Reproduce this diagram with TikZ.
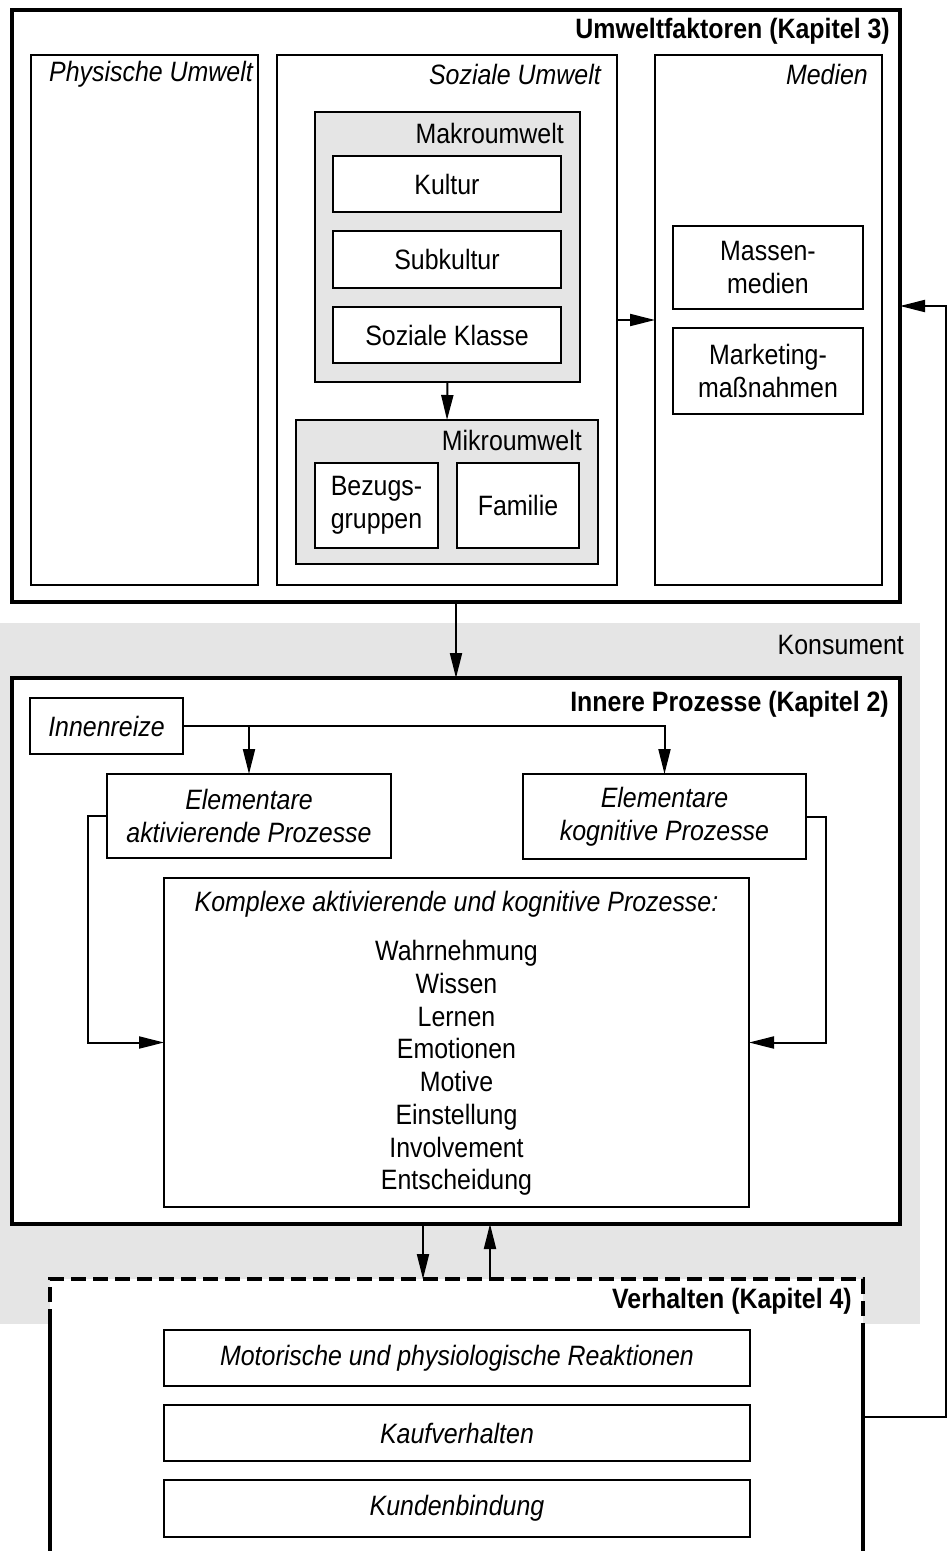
\documentclass[tikz,border=0pt]{standalone}
\usepackage{fontspec}
\setmainfont{Liberation Sans}[FakeStretch=0.89]
\usetikzlibrary{fit,arrows.meta}
\definecolor{panelgray}{HTML}{E5E5E5}
\newcommand{\txt}{\fontsize{28}{33}\selectfont}
\begin{document}
\begin{tikzpicture}[x=1pt,y=-1pt,
  stdbox/.style={draw, line width=2pt, fill=white, inner sep=0pt, outer sep=0pt, align=center, font=\txt},
  framebox/.style={stdbox, line width=3.5pt},
  groupbox/.style={stdbox, fill=panelgray},
  sized/.style 2 args={minimum width=#1pt, minimum height=#2pt},
  heading/.style={anchor=east, inner sep=0pt, font=\txt},
  arr/.style={line width=2pt, -{Triangle[length=25pt,width=12pt]}}
]
\useasboundingbox (0,0) rectangle (948,1551);

% consumer area
\node[fill=panelgray, inner sep=0pt, outer sep=0pt, fit={(0,623) (920,1324)}] (konsument) {};
\node[heading] (konsumentlabel) at (904,645) {Konsument};

% environment factors
\node[framebox, fit={(12,10) (900,602)}] (umwelt) {};
\node[heading, font=\txt\bfseries] (umwelttitel) at (890,31) {Umweltfaktoren (Kapitel 3)};

\node[stdbox, fit={(31,55) (258,585)}] (physisch) {};
\node[heading, font=\txt\itshape] (physischlabel) at (253,74) {Physische Umwelt};
\node[stdbox, fit={(277,55) (617,585)}] (sozial) {};
\node[heading, font=\txt\itshape] (soziallabel) at (601,74) {Soziale Umwelt};
\node[stdbox, fit={(655,55) (882,585)}] (medien) {};
\node[heading, font=\txt\itshape] (medienlabel) at (868,74) {Medien};

\node[groupbox, fit={(315,112) (580,382)}] (makro) {};
\node[heading] (makrolabel) at (564,133) {Makroumwelt};
\node[stdbox, sized={228}{56}] (kultur) at (447,184) {Kultur};
\node[stdbox, sized={228}{57}] (subkultur) at (447,259.5) {Subkultur};
\node[stdbox, sized={228}{56}] (klasse) at (447,335) {Soziale Klasse};

\node[groupbox, fit={(296,420) (598,564)}] (mikro) {};
\node[heading] (mikrolabel) at (582,440) {Mikroumwelt};
\node[stdbox, sized={123}{85}] (bezug) at (376.5,505.5) {Bezugs-\\gruppen};
\node[stdbox, sized={122}{85}] (familie) at (518,505.5) {Familie};

\node[stdbox, sized={190}{83}] (massen) at (768,267.5) {Massen-\\medien};
\node[stdbox, sized={190}{86}] (marketing) at (768,371) {Marketing-\\maßnahmen};

% inner processes
\node[framebox, fit={(12,678) (900,1224)}] (innere) {};
\node[heading, font=\txt\bfseries] (inneretitel) at (889,704) {Innere Prozesse (Kapitel 2)};
\node[stdbox, font=\txt\itshape, sized={153}{56}] (innenreize) at (106.5,726) {Innenreize};
\node[stdbox, font=\txt\itshape, sized={284}{84}] (aktiv) at (249,816) {Elementare\\aktivierende Prozesse};
\node[stdbox, font=\txt\itshape, sized={283}{85}] (kognitiv) at (664.5,816.5) {Elementare\\kognitive Prozesse};
\node[stdbox, fit={(164,878) (749,1207)}] (komplex) {};
\node[inner sep=0pt, font=\txt\itshape] (komplextitel) at (456.5,904) {Komplexe aktivierende und kognitive Prozesse:};
\node[inner sep=0pt, align=center, font={\fontsize{28}{32.7}\selectfont}] (komplexliste) at (456.5,1068)
  {Wahrnehmung\\Wissen\\Lernen\\Emotionen\\Motive\\Einstellung\\Involvement\\Entscheidung};

% behaviour (open towards the bottom)
\node[fill=white, inner sep=0pt, outer sep=0pt, fit={(50,1279) (863,1551)}] (verhalten) {};
\coordinate (graybase) at (0,1324);
\draw[line width=3.5pt, dash pattern=on 15pt off 7pt]
  (verhalten.west |- graybase) -- (verhalten.north west) -- (verhalten.north east) -- (verhalten.east |- graybase);
\draw[line width=3.5pt] (verhalten.west |- graybase) -- (verhalten.south west)
  (verhalten.east |- graybase) -- (verhalten.south east);
\node[heading, font=\txt\bfseries] (verhaltentitel) at (852,1301) {Verhalten (Kapitel 4)};
\node[stdbox, font=\txt\itshape, sized={586}{56}] (motorisch) at (457,1358) {Motorische und physiologische Reaktionen};
\node[stdbox, font=\txt\itshape, sized={586}{56}] (kauf) at (457,1433) {Kaufverhalten};
\node[stdbox, font=\txt\itshape, sized={586}{57}] (kunden) at (457,1508.5) {Kundenbindung};

% connectors
\draw[arr] (sozial.east) -- (medien.west);
\draw[arr] (makro.south) -- (mikro.north);
\draw[arr] (umwelt.south) -- (innere.north);

\draw[arr] (innenreize.east) -| (kognitiv.north);
\draw[arr] (aktiv.north |- innenreize.east) -- (aktiv.north);

\coordinate (leftbend) at (88,0);
\coordinate (rightbend) at (826,0);
\draw[arr] (aktiv.west) -- (aktiv.west -| leftbend) |- (komplex.west);
\draw[arr] (kognitiv.east) -- (kognitiv.east -| rightbend) |- (komplex.east);

\coordinate (downx) at (423,0);
\coordinate (upx) at (490,0);
\draw[arr] (innere.south -| downx) -- (verhalten.north -| downx);
\draw[arr] (verhalten.north -| upx) -- (innere.south -| upx);

\coordinate (feedx) at (946,0);
\coordinate (feedlow) at (0,1417);
\coordinate (feedhigh) at (0,306);
\draw[arr] (verhalten.east |- feedlow) -| (feedx |- feedhigh) -- (umwelt.east |- feedhigh);
\end{tikzpicture}
\end{document}
